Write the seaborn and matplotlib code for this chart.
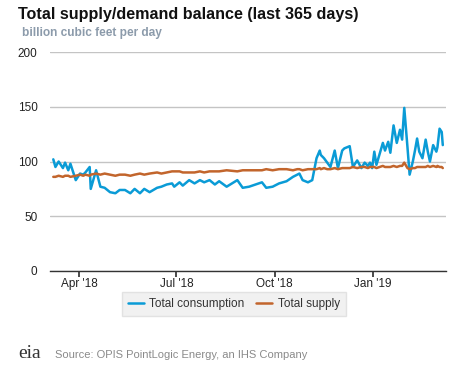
import matplotlib
matplotlib.use("Agg")
import matplotlib.pyplot as plt
import seaborn as sns
import pandas as pd

dates = ["2018-03-08","2018-03-10","2018-03-13","2018-03-17","2018-03-19","2018-03-22","2018-03-24","2018-03-29",
         "2018-04-02","2018-04-05","2018-04-07","2018-04-11","2018-04-12","2018-04-17","2018-04-21","2018-04-25","2018-04-30",
         "2018-05-05","2018-05-09","2018-05-14","2018-05-19","2018-05-23","2018-05-28",
         "2018-06-01","2018-06-06","2018-06-13","2018-06-17","2018-06-22","2018-06-27","2018-06-29",
         "2018-07-04","2018-07-07","2018-07-13","2018-07-18","2018-07-23","2018-07-27",
         "2018-08-01","2018-08-06","2018-08-10","2018-08-17","2018-08-27",
         "2018-09-01","2018-09-07","2018-09-19","2018-09-23","2018-09-29",
         "2018-10-05","2018-10-12","2018-10-18","2018-10-22","2018-10-24","2018-10-27",
         "2018-11-01","2018-11-05","2018-11-09","2018-11-12","2018-11-13","2018-11-16","2018-11-19","2018-11-22","2018-11-26","2018-11-29",
         "2018-12-03","2018-12-05","2018-12-10","2018-12-13","2018-12-17","2018-12-21","2018-12-24","2018-12-27","2018-12-29","2018-12-31",
         "2019-01-02","2019-01-04","2019-01-10","2019-01-12","2019-01-15","2019-01-17","2019-01-20","2019-01-23","2019-01-26","2019-01-28","2019-01-30",
         "2019-02-02","2019-02-04","2019-02-07","2019-02-09","2019-02-11","2019-02-13","2019-02-16","2019-02-19","2019-02-21","2019-02-23","2019-02-26",
         "2019-03-01","2019-03-02","2019-03-04","2019-03-06","2019-03-07"]

consumption = [102,95,100,94,99,92,98,83,
               89,88,90,95,75,92,77,76,72,
               71,74,74,71,75,71,
               75,72,76,77,79,80,77,
               81,78,83,80,83,81,
               83,79,82,77,83,
               76,77,81,76,77,
               80,82,86,88,89,83,
               81,83,103,110,106,103,99,95,110,94,
               110,112,114,95,101,94,99,96,99,94,
               109,97,117,110,118,108,133,117,129,120,149,
               113,88,100,110,121,109,103,120,109,100,115,
               109,113,130,127,115]

supply = [86,86,87,86,87,87,86,87,
          88,87,88,87,88,89,88,89,88,
          87,88,88,87,88,89,
          88,89,90,89,90,91,91,
          91,90,90,90,91,90,
          91,91,91,92,91,
          92,92,92,93,92,
          93,93,92,93,93,92,
          93,93,93,94,93,94,93,93,94,93,
          94,94,94,95,94,95,95,94,95,95,
          95,94,96,95,95,95,96,95,96,96,99,
          94,93,94,94,95,95,95,95,96,95,96,
          95,96,95,95,94]

series_names = ["Total consumption", "Total supply"]
y_ticks = [0, 50, 100, 150, 200]
x_tick_dates = ["2018-04-01", "2018-07-01", "2018-10-01", "2019-01-01"]
x_tick_labels = ["Apr '18", "Jul '18", "Oct '18", "Jan '19"]

df = pd.concat([
    pd.DataFrame({"date": pd.to_datetime(dates), "value": consumption, "series": series_names[0]}),
    pd.DataFrame({"date": pd.to_datetime(dates), "value": supply, "series": series_names[1]}),
])

sns.set_theme(style="white")
plt.rcParams["font.family"] = ["Liberation Sans", "DejaVu Sans"]

fig = plt.figure(figsize=(4.77, 3.67), dpi=100)
ax = fig.add_axes([0.105, 0.2616, 0.83, 0.5966])

palette = {"Total consumption": "#0a9bd6", "Total supply": "#c2652c"}
sns.lineplot(data=df, x="date", y="value", hue="series", palette=palette,
             linewidth=1.8, ax=ax, legend=False)

ax.set_ylim(0, 200)
ax.set_yticks(y_ticks)
ax.set_xlim(pd.Timestamp("2018-03-05"), pd.Timestamp("2019-03-10"))
ax.set_xticks(pd.to_datetime(x_tick_dates))
ax.set_xticklabels(x_tick_labels)
ax.yaxis.grid(True, color="#c4c4c4", linewidth=1)
ax.set_axisbelow(True)
for s in ["top", "right", "left"]:
    ax.spines[s].set_visible(False)
ax.spines["bottom"].set_color("#333333")
ax.spines["bottom"].set_linewidth(1)
ax.tick_params(axis="x", length=4, color="#333333", labelsize=8.5, labelcolor="#222222", pad=1, bottom=True)
ax.tick_params(axis="y", length=0, labelsize=8.5, labelcolor="#222222", pad=9)
ax.set_xlabel("")
ax.set_ylabel("")

fig.text(18/477, 1-15/367, "Total supply/demand balance (last 365 days)", fontsize=11.6,
         fontweight="bold", color="#111111", va="center", ha="left")
fig.text(22/477, 1-33/367, "billion cubic feet per day", fontsize=8.6, fontweight="bold",
         color="#8c9bab", va="center", ha="left")

handles = [plt.Line2D([], [], color=palette[n], linewidth=1.8) for n in series_names]
leg = fig.legend(handles, series_names, loc="center", bbox_to_anchor=(234/477, 1-304/367),
                 ncol=2, frameon=True, fontsize=8.5, handlelength=1.3, handletextpad=0.5,
                 columnspacing=1.0, borderpad=0.5, fancybox=False)
leg.get_frame().set_facecolor("#eeeeee")
leg.get_frame().set_edgecolor("#dddddd")
for t in leg.get_texts():
    t.set_color("#333333")

fig.text(18/477, 1-354/367, "eia", fontsize=14, family=["Liberation Serif", "DejaVu Serif"],
         color="#333333", va="center", ha="left")
fig.text(55/477, 1-355/367, "Source: OPIS PointLogic Energy, an IHS Company", fontsize=8,
         color="#8a8a8a", va="center", ha="left")

fig.savefig("out.png", dpi=100)
